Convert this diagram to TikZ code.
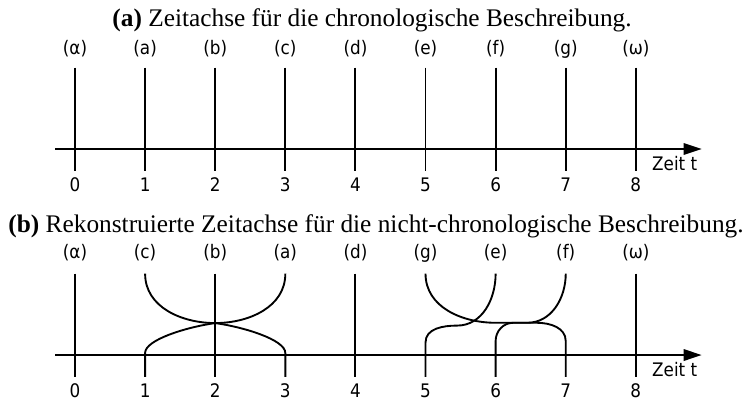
\documentclass[tikz,border=0pt]{standalone}
\usepackage{fontspec}
\setmainfont{Liberation Serif}
\newfontfamily\axisfont{DejaVu Sans Condensed}
\usetikzlibrary{arrows.meta}
\tikzset{
  tl/event/.style={line width=1.4pt},
  tl/axis/.style={line width=1.6pt, -{Triangle[length=13.5pt,width=8.5pt]}},
  tl/label/.style={font=\axisfont\fontsize{14}{15}\selectfont, inner sep=0pt,
    text height=0.76em, text depth=0.24em},
  tl/tick/.style={font=\axisfont\fontsize{14}{15}\selectfont, inner sep=0pt,
    text height=0.73em, text depth=0pt},
  tl/title/.style={font=\fontsize{19}{22}\selectfont, inner sep=0pt}
}

\begin{document}
\begin{tikzpicture}[x=52.575pt,y=52.575pt]
  \useasboundingbox (-1.070,-3.595) rectangle (9.600,2.1255);

  % (a) chronological
  \node[tl/title] (titleA) at (4.237,1.84) {\textbf{(a)} Zeitachse für die chronologische Beschreibung.};
  \foreach \i/\ev in {0/α,1/a,2/b,3/c,4/d,5/e,6/f,7/g,8/ω}{
    \node[tl/label] (evA\i) at (\i,1.40) {(\ev)};
    \draw[tl/event] (\i,1.16) -- (\i,-0.31);
    \node[tl/tick] (tA\i) at (\i,-0.53) {\i};
  }
  \coordinate (axA0) at (-0.285,0);
  \coordinate (axA1) at (8.94,0);
  \draw[tl/axis] (axA0) -- (axA1);
  \node[tl/label,anchor=west] (zeitA) at (8.23,-0.26) {Zeit t};

  % (b) reconstructed
  \node[tl/title] (titleB) at (4.294,-1.10) {\textbf{(b)} Rekonstruierte Zeitachse für die nicht-chronologische Beschreibung.};
  \begin{scope}[yshift=-2.939*52.575pt]
    \foreach \i/\ev in {0/α,1/c,2/b,3/a,4/d,5/g,6/e,7/f,8/ω}{
      \node[tl/label] (evB\i) at (\i,1.42) {(\ev)};
      \node[tl/tick] (tB\i) at (\i,-0.54) {\i};
    }
    \foreach \i in {0,2,4,8}
      \draw[tl/event] (\i,1.16) -- (\i,-0.31);
    \coordinate (cross) at (2,0.456);
    \draw[tl/event] (1,1.16) to[out=-90,in=180] (cross)
      .. controls (2.4,0.40) and (3,0.22) .. (3,0.03) -- (3,-0.31);
    \draw[tl/event] (3,1.16) to[out=-90,in=0] (cross)
      .. controls (1.6,0.40) and (1,0.22) .. (1,0.03) -- (1,-0.31);
    % g, e, f
    \draw[tl/event] (5,1.16) to[out=-90,in=180] (6.0,0.46) -- (6.59,0.46)
      to[out=0,in=90] (7,0.2) -- (7,-0.31);
    \draw[tl/event] (6,1.16) to[out=-90,in=0] (5.45,0.42)
      to[out=180,in=90] (5,0.18) -- (5,-0.31);
    \draw[tl/event] (7,1.16) to[out=-90,in=0] (6.45,0.46) -- (6.25,0.46)
      to[out=180,in=90] (6,0.2) -- (6,-0.31);
    \coordinate (axB0) at (-0.285,0);
    \coordinate (axB1) at (8.94,0);
    \draw[tl/axis] (axB0) -- (axB1);
    \node[tl/label,anchor=west] (zeitB) at (8.23,-0.26) {Zeit t};
  \end{scope}
\end{tikzpicture}
\end{document}
